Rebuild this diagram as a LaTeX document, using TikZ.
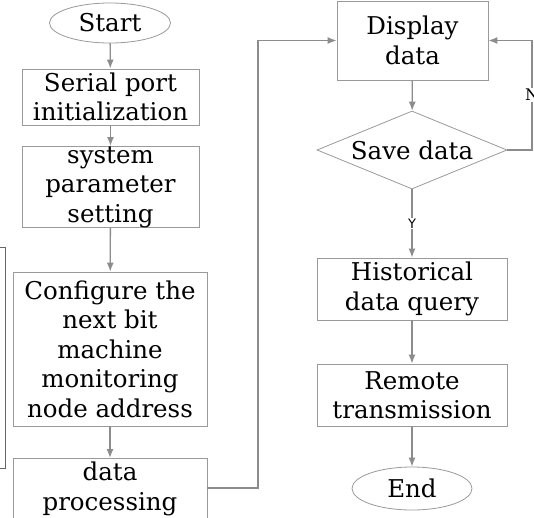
\documentclass[tikz,border=0pt]{standalone}
\usepackage{fontspec}
\setmainfont{DejaVu Serif}
\newfontfamily\labelsans{DejaVu Sans}
\usetikzlibrary{arrows.meta,shapes.geometric}
\definecolor{edgegray}{HTML}{9A9A9A}
\definecolor{arrowgray}{HTML}{8C8C8C}
\tikzset{
  mainfont/.style={font=\fontsize{24.5}{29.5}\selectfont},
  box/.style={draw=edgegray, line width=0.9pt, rectangle, inner sep=0pt, align=center,
    mainfont, fill=white},
  term/.style={draw=edgegray, line width=0.8pt, ellipse, inner sep=0pt, align=center, mainfont},
  decide/.style={draw=edgegray, line width=0.8pt, diamond, aspect=2.4, inner sep=0pt, align=center, mainfont},
  flow/.style={draw=arrowgray, line width=1.3pt, -{Latex[length=9pt,width=7pt]}},
  lbl/.style={fill=white, inner sep=1pt}
}
\begin{document}
\begin{tikzpicture}[x=1pt,y=-1pt]
\useasboundingbox[fill=white] (0,0) rectangle (534,517);
% left column
\node[term, minimum width=121pt, minimum height=40pt] (start) at (110,23) {Start};
\node[box, minimum width=177pt, minimum height=56pt] (serial) at (110.5,97) {Serial port\\initialization};
\node[box, minimum width=177pt, minimum height=80pt] (sys) at (110.5,187) {system\\parameter\\setting};
\node[box, minimum width=194pt, minimum height=154pt] (conf) at (110,349) {Configure the\\next bit\\machine\\monitoring\\node address};
\node[box, minimum width=194pt, minimum height=70pt, anchor=north] (proc) at (110,458) {};
\node[align=center, mainfont, anchor=north, inner sep=0pt] (proctext) at (110,462) {data\\processing};
% right column
\node[box, minimum width=151pt, minimum height=79pt] (disp) at (412.5,40.5) {Display\\data};
\node[decide, minimum width=190pt, minimum height=78pt] (save) at (412,150) {Save data};
\node[box, minimum width=190pt, minimum height=62pt] (hist) at (412,289) {Historical\\data query};
\node[box, minimum width=190pt, minimum height=62pt] (remote) at (412,395) {Remote\\transmission};
\node[term, minimum width=120pt, minimum height=43pt] (end) at (412,488.5) {End};
% connectors
\draw[flow] (start) -- (serial);
\draw[flow] (serial) -- (sys);
\draw[flow] (sys) -- (conf);
\draw[flow] (conf) -- (proc.north);
\coordinate (pc1) at (258,488);
\coordinate (pc2) at (258,40.5);
\draw[flow] (proc.east |- pc1) -- (pc1) -- (pc2) -- (disp.west);
\draw[flow] (disp) -- (save);
\draw[flow] (save) -- node[lbl, font=\labelsans\fontsize{13}{15}\selectfont] {Y} (hist);
\coordinate (nr1) at (532,150);
\coordinate (nr2) at (532,40.5);
\draw[flow] (save.east) -- (nr1) -- node[lbl, pos=0.5, font=\fontsize{16}{18}\selectfont] {N} (nr2) -- (disp.east);
\draw[flow] (hist) -- (remote);
\draw[flow] (remote) -- (end);
% partially visible loop at left edge
\coordinate (lb1) at (0,247);
\coordinate (lb2) at (5,247);
\coordinate (lb3) at (5,468);
\coordinate (lb4) at (0,468);
\draw[draw=gray!80!black, line width=0.9pt] (lb1) -- (lb2) -- (lb3) -- (lb4);
\end{tikzpicture}
\end{document}
